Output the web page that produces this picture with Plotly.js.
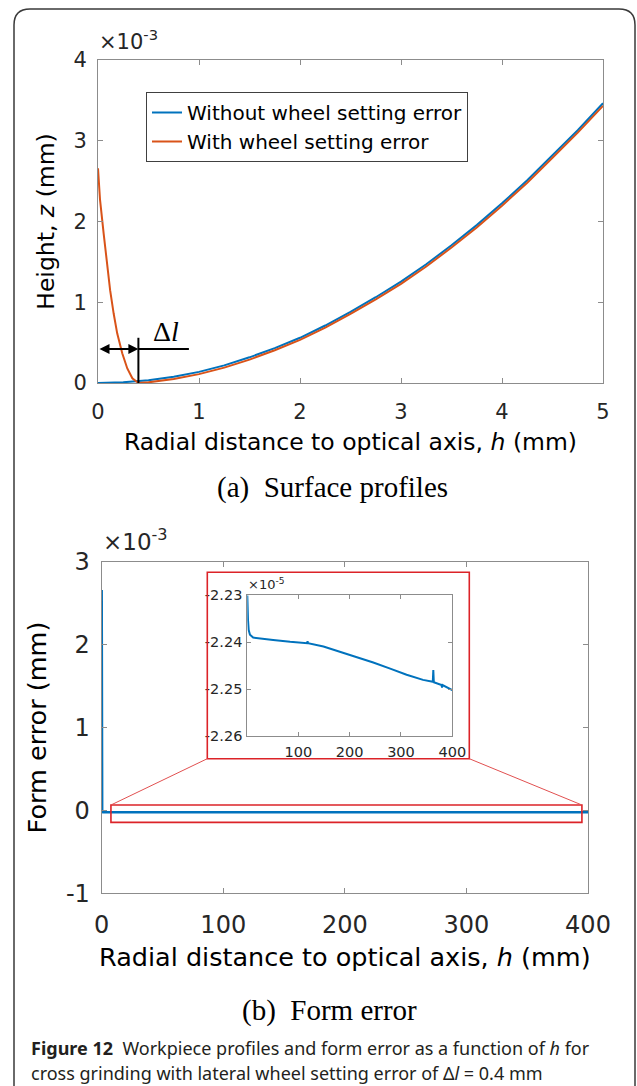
<!DOCTYPE html>
<html>
<head>
<meta charset="utf-8">
<script src="https://cdn.plot.ly/plotly-3.0.1.min.js"></script>
<style>
html,body{margin:0;padding:0;background:#fff;}
#chart{width:637px;height:1086px;}
</style>
</head>
<body>
<div id="chart"></div>
<script>
// ---------- Data (values shown in units of 1e-3 mm unless noted) ----------
// (a) Surface profiles
const hWithout = [0, 0.25, 0.5, 0.75, 1, 1.25, 1.5, 1.75, 2, 2.25, 2.5, 2.75, 3, 3.25, 3.5, 3.75, 4, 4.25, 4.5, 4.75, 5];
const zWithout = [0, 0.009, 0.035, 0.078, 0.138, 0.218, 0.318, 0.432, 0.560, 0.712, 0.882, 1.062, 1.255, 1.470, 1.706, 1.955, 2.225, 2.510, 2.820, 3.130, 3.465];
const hWith = [0, 0.02, 0.056, 0.09, 0.12, 0.155, 0.19, 0.24, 0.29, 0.34, 0.4, 0.5, 0.75, 1, 1.25, 1.5, 1.75, 2, 2.25, 2.5, 2.75, 3, 3.25, 3.5, 3.75, 4, 4.25, 4.5, 4.75, 5];
const zWith = [2.66, 2.27, 1.85, 1.48, 1.15, 0.86, 0.615, 0.368, 0.18, 0.058, 0.0, 0.008, 0.050, 0.110, 0.190, 0.290, 0.405, 0.533, 0.685, 0.855, 1.035, 1.228, 1.443, 1.678, 1.926, 2.196, 2.480, 2.790, 3.100, 3.432];
const deltaL = 0.4;          // lateral wheel setting error (mm)

// (b) Form error
const hErr = [0, 0.1, 0.2, 0.3, 0.4, 1, 3, 10, 50, 100, 150, 200, 250, 300, 350, 400];
const formErr = [2.66, 1.30, 0.60, 0.17, -0.020, -0.0224, -0.0224, -0.0224, -0.0224, -0.0224, -0.0224, -0.0224, -0.0225, -0.0225, -0.0225, -0.0225];

// Inset (values in units of 1e-5 mm)
const hInset = [0.6, 1, 2, 3.3, 5.8, 12, 25, 51, 84, 117, 118, 119, 149, 181, 214, 246, 279, 311, 343, 362, 363, 363.5, 364, 379, 380, 381, 400];
const errInset = [-2.2300, -2.2330, -2.2353, -2.2374, -2.2384, -2.2390, -2.2392, -2.2395, -2.2399, -2.2402, -2.2398, -2.2402, -2.2409, -2.2420, -2.2431, -2.2443, -2.2456, -2.2469, -2.2480, -2.2484, -2.2459, -2.2485, -2.2485, -2.2491, -2.2496, -2.2491, -2.2502];

// Tick labels
const topXTicks = [0, 1, 2, 3, 4, 5];
const topYTicks = [0, 1, 2, 3, 4];
const botXTicks = [0, 100, 200, 300, 400];
const botYTicks = [-1, 0, 1, 2, 3];
const botYText = ['-1', '0', '1', '2', '3'];
const insXTicks = [100, 200, 300, 400];
const insYTicks = [-2.26, -2.25, -2.24, -2.23];
const insYText = ['-2.26', '-2.25', '-2.24', '-2.23'];

// ---------- Layout geometry ----------
const W = 637, H = 1086;
const px = x => x / W;
const py = y => 1 - y / H;
const TOP = {x0: 98, x1: 603, y0: 60, y1: 383};
const BOT = {x0: 101.7, x1: 588, y0: 561.7, y1: 893.3};
const INS = {x0: 247.3, x1: 452.3, y0: 595.3, y1: 736.3};
const INSFRAME = {x0: 207.3, x1: 469.3, y0: 572.3, y1: 758.7};

const botXRange = [0, 400], botYRange = [-1, 3];
const zoomBox = {x0: 7.6, x1: 395, y0: -0.144, y1: 0.065};
const bx = v => BOT.x0 + (v - botXRange[0]) / (botXRange[1] - botXRange[0]) * (BOT.x1 - BOT.x0);
const by = v => BOT.y1 - (v - botYRange[0]) / (botYRange[1] - botYRange[0]) * (BOT.y1 - BOT.y0);

const BLUE = '#0072BD', ORANGE = '#D95319', RED = 'rgb(220,35,40)';
const AXC = '#8c8c8c';
const SANS = 'DejaVu Sans, Arial, sans-serif';
const SERIF = 'Liberation Serif, Times New Roman, serif';
const CAPF = 'Noto Sans, Open Sans, sans-serif';

function axisBase(extra) {
  return Object.assign({
    showline: true, mirror: 'ticks', linecolor: AXC, linewidth: 1,
    ticks: 'inside', ticklen: 5, tickcolor: AXC, tickwidth: 1,
    showgrid: false, zeroline: false, fixedrange: true,
    tickfont: {family: SANS, size: 21, color: '#262626'}
  }, extra);
}

const traces = [
  {x: hWithout, y: zWithout, xaxis: 'x', yaxis: 'y', type: 'scatter', mode: 'lines',
   name: 'Without wheel setting error', line: {color: BLUE, width: 2}},
  {x: hWith, y: zWith, xaxis: 'x', yaxis: 'y', type: 'scatter', mode: 'lines',
   name: 'With wheel setting error', line: {color: ORANGE, width: 2}},
  {x: hErr, y: formErr, xaxis: 'x2', yaxis: 'y2', type: 'scatter', mode: 'lines',
   showlegend: false, line: {color: BLUE, width: 2.5}},
  {x: hInset, y: errInset, xaxis: 'x3', yaxis: 'y3', type: 'scatter', mode: 'lines',
   showlegend: false, line: {color: BLUE, width: 2}}
];

const layout = {
  width: W, height: H,
  margin: {l: 0, r: 0, t: 0, b: 0},
  paper_bgcolor: '#fff', plot_bgcolor: '#fff',
  showlegend: true,
  legend: {
    x: px(146), y: py(92), xanchor: 'left', yanchor: 'top',
    bgcolor: '#fff', bordercolor: '#404040', borderwidth: 1,
    font: {family: SANS, size: 20, color: '#000'},
    traceorder: 'normal'
  },
  xaxis: axisBase({domain: [px(TOP.x0), px(TOP.x1)], anchor: 'y', range: [0, 5],
    tickvals: topXTicks, ticklabelstandoff: 10,
    title: {text: 'Radial distance to optical axis, <i>h</i> (mm)', standoff: 10,
            font: {family: SANS, size: 23.5, color: '#000'}}}),
  yaxis: axisBase({domain: [py(TOP.y1), py(TOP.y0)], anchor: 'x', range: [0, 4],
    tickvals: topYTicks, ticklabelstandoff: 6,
    title: {text: 'Height, <i>z</i> (mm)', standoff: 12,
            font: {family: SANS, size: 23.5, color: '#000'}}}),
  xaxis2: axisBase({domain: [px(BOT.x0), px(BOT.x1)], anchor: 'y2', range: botXRange,
    tickvals: botXTicks, ticklabelstandoff: 10, tickfont: {family: SANS, size: 24, color: '#262626'},
    title: {text: 'Radial distance to optical axis, <i>h</i> (mm)', standoff: 10,
            font: {family: SANS, size: 25.5, color: '#000'}}}),
  yaxis2: axisBase({domain: [py(BOT.y1), py(BOT.y0)], anchor: 'x2', range: botYRange,
    tickvals: botYTicks, ticktext: botYText, ticklabelstandoff: 6,
    tickfont: {family: SANS, size: 24, color: '#262626'},
    title: {text: 'Form error (mm)', standoff: 12,
            font: {family: SANS, size: 25.5, color: '#000'}}}),
  xaxis3: axisBase({domain: [px(INS.x0), px(INS.x1)], anchor: 'y3', range: [0.6, 400],
    tickvals: insXTicks, ticklen: 4, ticklabelstandoff: 2,
    tickfont: {family: SANS, size: 14.5, color: '#262626'}}),
  yaxis3: axisBase({domain: [py(INS.y1), py(INS.y0)], anchor: 'x3', range: [-2.26, -2.23],
    tickvals: insYTicks, ticktext: insYText, ticklen: 4, ticklabelstandoff: 1,
    tickfont: {family: SANS, size: 14.5, color: '#262626'}}),
  shapes: [
    // outer rounded frame
    {type: 'path', xref: 'paper', yref: 'paper',
     path: `M ${px(14)},${py(1100)} L ${px(14)},${py(25)} Q ${px(14)},${py(9)} ${px(30)},${py(9)} L ${px(619)},${py(9)} Q ${px(635)},${py(9)} ${px(635)},${py(25)} L ${px(635)},${py(1100)}`,
     line: {color: '#3a3a3a', width: 1.5}},
    // delta-l marker lines (data coordinates of panel a)
    {type: 'line', xref: 'x', yref: 'y', x0: deltaL, x1: deltaL, y0: 0, y1: 0.56,
     line: {color: '#000', width: 2}},
    {type: 'line', xref: 'x', yref: 'y', x0: deltaL, x1: 0.9, y0: 0.42, y1: 0.42,
     line: {color: '#000', width: 2}},
    // zoom rectangle in panel b
    {type: 'rect', xref: 'x2', yref: 'y2', x0: zoomBox.x0, x1: zoomBox.x1, y0: zoomBox.y0, y1: zoomBox.y1,
     line: {color: RED, width: 1.6}},
    // inset frame
    {type: 'rect', xref: 'paper', yref: 'paper',
     x0: px(INSFRAME.x0), x1: px(INSFRAME.x1), y0: py(INSFRAME.y1), y1: py(INSFRAME.y0),
     line: {color: RED, width: 1.6}},
    // connector lines
    {type: 'line', xref: 'paper', yref: 'paper',
     x0: px(bx(zoomBox.x0)), y0: py(by(zoomBox.y1)), x1: px(INSFRAME.x0), y1: py(INSFRAME.y1),
     line: {color: 'rgb(225,80,80)', width: 1}},
    {type: 'line', xref: 'paper', yref: 'paper',
     x0: px(bx(zoomBox.x1)), y0: py(by(zoomBox.y1)), x1: px(INSFRAME.x1), y1: py(INSFRAME.y1),
     line: {color: 'rgb(225,80,80)', width: 1}}
  ],
  annotations: [
    // exponent labels
    {xref: 'paper', yref: 'paper', x: px(97), y: py(56), xanchor: 'left', yanchor: 'bottom',
     text: '×10<sup>-3</sup>', showarrow: false, font: {family: SANS, size: 21, color: '#262626'}},
    {xref: 'paper', yref: 'paper', x: px(101), y: py(557), xanchor: 'left', yanchor: 'bottom',
     text: '×10<sup>-3</sup>', showarrow: false, font: {family: SANS, size: 23, color: '#262626'}},
    {xref: 'paper', yref: 'paper', x: px(246), y: py(594), xanchor: 'left', yanchor: 'bottom',
     text: '×10<sup>-5</sup>', showarrow: false, font: {family: SANS, size: 13, color: '#262626'}},
    // delta l double arrow
    {xref: 'x', yref: 'y', x: deltaL, y: 0.42, axref: 'x', ayref: 'y', ax: 0, ay: 0.42,
     text: '', showarrow: true, arrowside: 'end+start', arrowhead: 2, startarrowhead: 2,
     arrowsize: 1, startarrowsize: 1, arrowwidth: 2, arrowcolor: '#000', standoff: 0, startstandoff: 0},
    {xref: 'x', yref: 'y', x: 0.67, y: 0.64, text: 'Δ<i>l</i>', showarrow: false,
     font: {family: SERIF, size: 28, color: '#000'}},
    // sub-captions
    {xref: 'paper', yref: 'paper', x: px(332), y: py(487), xanchor: 'center', yanchor: 'middle',
     text: '(a)  Surface profiles', showarrow: false, font: {family: SERIF, size: 29, color: '#000'}},
    {xref: 'paper', yref: 'paper', x: px(329), y: py(1010), xanchor: 'center', yanchor: 'middle',
     text: '(b)  Form error', showarrow: false, font: {family: SERIF, size: 29, color: '#000'}},
    // figure caption
    {xref: 'paper', yref: 'paper', x: px(29), y: py(1048), xanchor: 'left', yanchor: 'middle', align: 'left',
     text: '<b>Figure 12</b>  Workpiece profiles and form error as a function of <i>h</i> for',
     showarrow: false, font: {family: CAPF, size: 18, color: '#231f20'}},
    {xref: 'paper', yref: 'paper', x: px(29), y: py(1073), xanchor: 'left', yanchor: 'middle', align: 'left',
     text: 'cross grinding with lateral wheel setting error of Δ<i>l</i> = 0.4 mm',
     showarrow: false, font: {family: CAPF, size: 18, color: '#231f20'}}
  ]
};

Plotly.newPlot('chart', traces, layout, {displayModeBar: false, staticPlot: true});
</script>
</body>
</html>
